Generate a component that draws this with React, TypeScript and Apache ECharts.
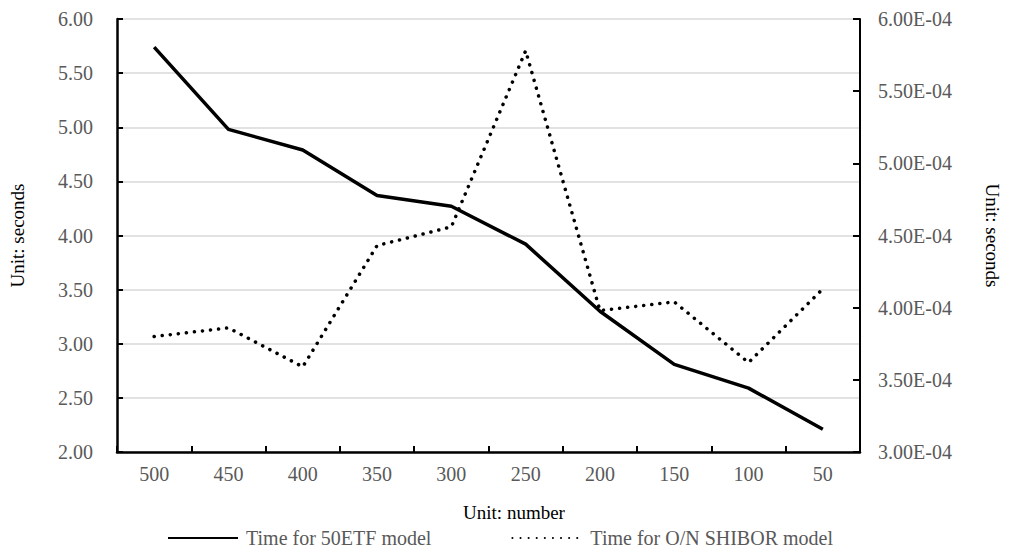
import React, { useEffect, useRef } from "react";
import * as echarts from "echarts";

const categories = ["500", "450", "400", "350", "300", "250", "200", "150", "100", "50"];
const etfTime = [5.74, 4.98, 4.79, 4.37, 4.27, 3.92, 3.3, 2.81, 2.59, 2.21];
const shiborTime = [3.8e-4, 3.86e-4, 3.59e-4, 4.43e-4, 4.56e-4, 5.78e-4, 3.98e-4, 4.04e-4, 3.62e-4, 4.13e-4];
const seriesNames = ["Time for 50ETF model", "Time for O/N SHIBOR model"];

const FONT = "Liberation Serif";
const LABEL = "#595959";

export default function App() {
  const ref = useRef<HTMLDivElement>(null);
  useEffect(() => {
    const chart = echarts.init(ref.current!, null, { renderer: "svg" });
    chart.setOption({
      animation: false,
      textStyle: { fontFamily: FONT },
      grid: { left: 116, right: 146, top: 19, bottom: 102 },
      legend: {
        data: seriesNames,
        left: 167,
        top: 527,
        padding: 0,
        itemWidth: 70,
        itemHeight: 14,
        itemGap: 80,
        itemStyle: { opacity: 0 },
        textStyle: { fontFamily: FONT, fontSize: 20, lineHeight: 22, color: LABEL, padding: [0, 0, 0, 3] },
      },
      xAxis: {
        type: "category",
        data: categories,
        boundaryGap: true,
        name: "Unit: number",
        nameLocation: "middle",
        nameGap: 51,
        nameTextStyle: { fontFamily: FONT, fontSize: 19, color: "#000", padding: [0, 0, 0, 51] },
        axisLine: { lineStyle: { color: "#000", width: 2.5 } },
        axisTick: { show: true, inside: true, length: 6, lineStyle: { color: "#000", width: 2 } },
        axisLabel: { fontFamily: FONT, fontSize: 20, color: LABEL, margin: 12 },
      },
      yAxis: [
        {
          type: "value",
          min: 2,
          max: 6,
          interval: 0.5,
          name: "Unit: seconds",
          nameLocation: "middle",
          nameRotate: 90,
          nameGap: 90,
          nameTextStyle: { fontFamily: FONT, fontSize: 19, color: "#000" },
          axisLine: { show: true, lineStyle: { color: "#000", width: 2.5 } },
          axisTick: { show: true, inside: true, length: 6, lineStyle: { color: "#000", width: 2 } },
          axisLabel: {
            fontFamily: FONT,
            fontSize: 20,
            color: LABEL,
            margin: 24,
            formatter: (v: number) => v.toFixed(2),
          },
          splitLine: { show: true, lineStyle: { color: "#d9d9d9", width: 1.5 } },
        },
        {
          type: "value",
          min: 3e-4,
          max: 6e-4,
          interval: 0.5e-4,
          position: "right",
          name: "Unit: seconds",
          nameLocation: "middle",
          nameRotate: -90,
          nameGap: 123,
          nameTextStyle: { fontFamily: FONT, fontSize: 19, color: "#000" },
          axisLine: { show: true, lineStyle: { color: "#000", width: 2 } },
          axisTick: { show: true, inside: true, length: 7, lineStyle: { color: "#000", width: 2 } },
          axisLabel: {
            fontFamily: FONT,
            fontSize: 20,
            color: LABEL,
            margin: 18,
            formatter: (v: number) => (v * 1e4).toFixed(2) + "E-04",
          },
          splitLine: { show: false },
        },
      ],
      series: [
        {
          name: seriesNames[0],
          type: "line",
          data: etfTime,
          yAxisIndex: 0,
          symbol: "none",
          showSymbol: false,
          lineStyle: { color: "#000", width: 3.5 },
          itemStyle: { color: "#000" },
        },
        {
          name: seriesNames[1],
          type: "line",
          data: shiborTime,
          yAxisIndex: 1,
          symbol: "none",
          showSymbol: false,
          lineStyle: { color: "#000", width: 3.5, type: [0.1, 8], cap: "round" },
          itemStyle: { color: "#000" },
        },
      ],
    });
    return () => chart.dispose();
  }, []);
  return <div ref={ref} style={{ width: 1010, height: 554, margin: -8 }} />;
}
